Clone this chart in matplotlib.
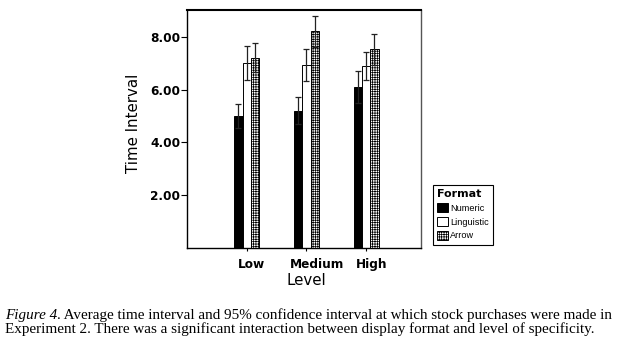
import numpy as np
import matplotlib
matplotlib.use('Agg')
import matplotlib.pyplot as plt
import matplotlib.transforms as mtransforms
from matplotlib.patches import Patch

# Ortalama süreler ve %95 güven aralığı yarı genişlikleri
levels = ['Low', 'Medium', 'High']
formats = ['Numeric', 'Linguistic', 'Arrow']
numeric_mean = [5.00, 5.19, 6.10]
numeric_ci = [0.45, 0.51, 0.62]
linguistic_mean = [7.01, 6.94, 6.90]
linguistic_ci = [0.64, 0.60, 0.53]
arrow_mean = [7.21, 8.21, 7.52]
arrow_ci = [0.56, 0.59, 0.59]
y_ticks = [2, 4, 6, 8]

plt.rcParams['font.family'] = 'DejaVu Sans'
plt.rcParams['hatch.linewidth'] = 0.5

fig = plt.figure(figsize=(6.35, 3.43), dpi=100)
ax = fig.add_axes([187 / 635, 1 - 248 / 343, 234 / 635, 238.5 / 343])

x = np.arange(len(levels))
w = 0.14
stiller = [
    dict(facecolor='black', edgecolor='black'),
    dict(facecolor='white', edgecolor='black'),
    dict(facecolor='white', edgecolor='black', hatch='+++++++'),
]
seriler = [(numeric_mean, numeric_ci), (linguistic_mean, linguistic_ci), (arrow_mean, arrow_ci)]

for i, ((ort, ci), st) in enumerate(zip(seriler, stiller)):
    pos = x + (i - 1) * w
    ax.bar(pos, ort, width=w, linewidth=0.7, zorder=2, **st)
    ax.errorbar(pos, ort, yerr=ci, fmt='none', ecolor='#222222',
                elinewidth=0.9, capsize=2.2, capthick=0.9, zorder=3)

ax.set_xlim(-1.0, 2.92)
ax.set_ylim(0, 9.03)
ax.set_yticks(y_ticks)
ax.set_yticklabels([f'{v:.2f}' for v in y_ticks], fontweight='bold', fontsize=8.7)
ax.set_xticks(x)
ax.set_xticklabels(levels, fontweight='bold', fontsize=8.7)
ax.tick_params(axis='y', length=4, width=0.8, pad=0.8)
ax.tick_params(axis='x', length=2.5, width=0.8, pad=4.5)

# x etiketleri biraz sağa kayık
kaydir = [5, 10.5, 6]
for lbl, dx in zip(ax.get_xticklabels(), kaydir):
    lbl.set_transform(lbl.get_transform() +
                      mtransforms.ScaledTranslation(dx / 100, 0, fig.dpi_scale_trans))

for s in ['left', 'bottom']:
    ax.spines[s].set_linewidth(1.0)
ax.spines['top'].set_linewidth(1.5)
ax.spines['right'].set_linewidth(1.0)
ax.spines['right'].set_color('#555555')

ax.set_ylabel('Time Interval', fontsize=10.8)
ax.yaxis.set_label_coords(-0.197, 0.521)
ax.set_xlabel('Level', fontsize=10.8)
ax.xaxis.set_label_coords(0.509, -0.105)

handles = [Patch(linewidth=0.7, **st) for st in stiller]
leg = fig.legend(handles, formats, loc='upper left',
                 bbox_to_anchor=(433 / 635, 1 - 185 / 343),
                 title='Format', title_fontproperties={'weight': 'bold', 'size': 8},
                 prop={'family': 'Liberation Sans', 'size': 6.6},
                 alignment='left', fancybox=False, edgecolor='black',
                 framealpha=1, borderpad=0.45, handlelength=1.15, handleheight=1.15,
                 handletextpad=0.3, labelspacing=0.45, borderaxespad=0)
leg.get_frame().set_linewidth(0.8)

# Alt yazı
t1 = fig.text(5 / 635, 1 - 322.3 / 343, 'Figure 4', style='italic',
              family='Liberation Serif', fontsize=10.9, va='bottom')
ax.annotate('. Average time interval and 95% confidence interval at which stock purchases were made in',
            xy=(1, 0), xycoords=t1, va='bottom', ha='left',
            family='Liberation Serif', fontsize=10.9, annotation_clip=False)
fig.text(5 / 635, 1 - 336.5 / 343,
         'Experiment 2. There was a significant interaction between display format and level of specificity.',
         family='Liberation Serif', fontsize=10.9, va='bottom')

fig.savefig('out.png', dpi=100)
